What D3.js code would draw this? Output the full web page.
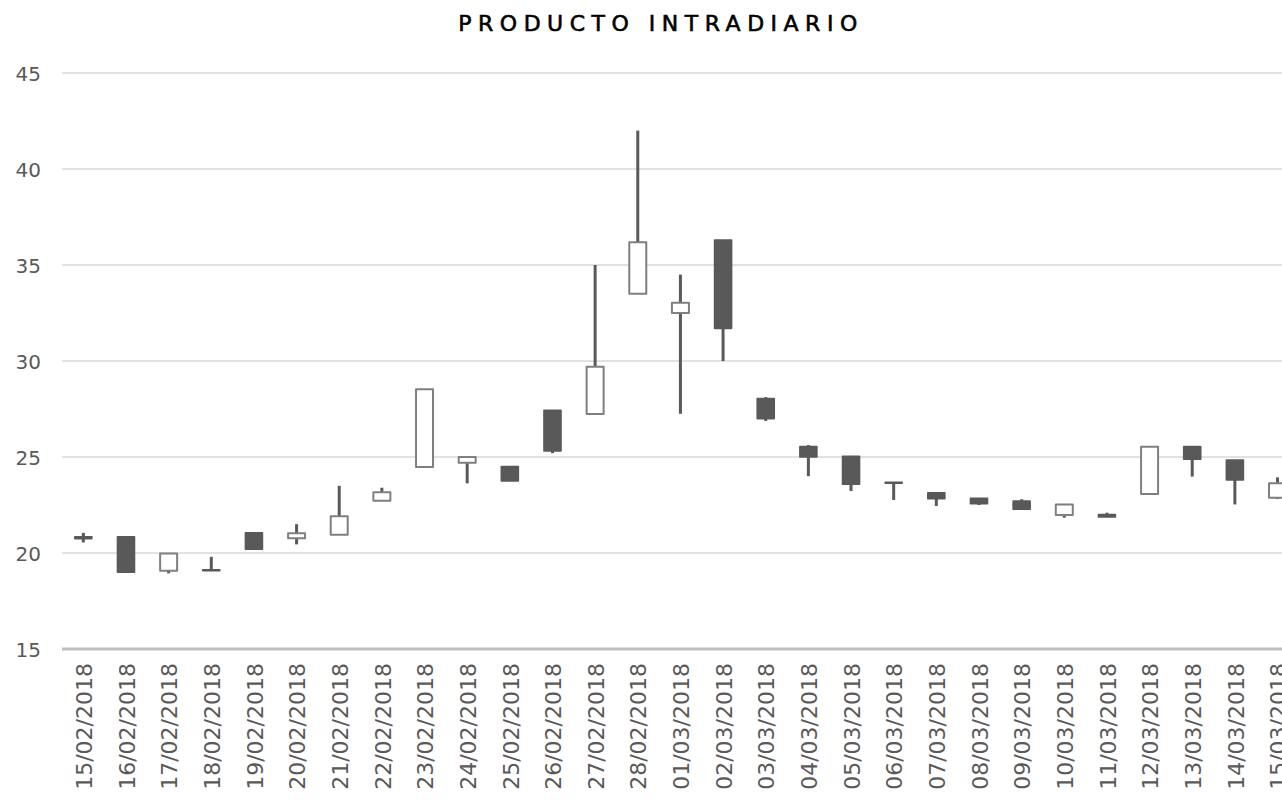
<!DOCTYPE html>
<html>
<head>
<meta charset="utf-8">
<script src="https://cdn.jsdelivr.net/npm/d3@7"></script>
<style>
  html, body { margin: 0; padding: 0; background: white; overflow: hidden; }
</style>
</head>
<body>
<svg id="canvas"></svg>
<script>
const dates = ["15/02/2018", "16/02/2018", "17/02/2018", "18/02/2018", "19/02/2018", "20/02/2018", "21/02/2018",
    "22/02/2018", "23/02/2018", "24/02/2018", "25/02/2018", "26/02/2018", "27/02/2018", "28/02/2018",
    "01/03/2018", "02/03/2018", "03/03/2018", "04/03/2018", "05/03/2018", "06/03/2018", "07/03/2018",
    "08/03/2018", "09/03/2018", "10/03/2018", "11/03/2018", "12/03/2018", "13/03/2018", "14/03/2018", "15/03/2018"];
const openValues = [20.85, 20.85, 19.08, 19.12, 21.05, 20.77, 20.95, 22.72, 24.48, 24.7, 24.5, 27.43, 27.24, 33.5,
    32.5, 36.3, 28.05, 25.55, 25.03, 23.68, 23.13, 22.85, 22.7, 21.98, 22.0, 23.07, 25.54, 24.84, 22.88];
const highValues = [21.05, 20.85, 19.98, 19.8, 21.05, 21.5, 23.5, 23.4, 28.53, 25.0, 24.5, 27.43, 35.0, 42.0,
    34.5, 36.3, 28.12, 25.62, 25.03, 23.68, 23.13, 22.85, 22.8, 22.53, 22.1, 25.54, 25.54, 24.84, 23.94];
const lowValues = [20.55, 19.0, 18.94, 19.08, 20.2, 20.45, 20.95, 22.72, 24.48, 23.63, 23.75, 25.2, 27.24, 33.5,
    27.25, 30.0, 26.88, 24.0, 23.23, 22.76, 22.45, 22.5, 22.28, 21.84, 21.88, 23.07, 23.98, 22.53, 22.81];
const closeValues = [20.75, 19.0, 19.98, 19.08, 20.2, 21.03, 21.92, 23.16, 28.53, 25.0, 23.75, 25.31, 29.7, 36.18,
    33.03, 31.7, 27.0, 25.0, 23.58, 23.64, 22.83, 22.57, 22.28, 22.53, 21.88, 25.54, 24.88, 23.8, 23.63];
const yTicks = [15, 20, 25, 30, 35, 40, 45];

const svgWidth = 1282;
const svgHeight = 800;
const plotLeft = 62;
const step = 42.65;

const data = dates.map((d, i) => ({
    date: d, open: openValues[i], high: highValues[i], low: lowValues[i], close: closeValues[i]
}));

const svg = d3.select("svg")
    .attr("width", svgWidth)
    .attr("height", svgHeight)
    .style("font-family", "'DejaVu Sans', sans-serif");

const xScale = d3.scaleBand()
    .domain(dates)
    .range([plotLeft, plotLeft + step * dates.length])
    .padding(0);

const yScale = d3.scaleLinear()
    .domain([15, 45])
    .range([649, 73]);

const cx = (d) => xScale(d.date) + xScale.bandwidth() / 2;

// title
svg.append("text")
    .attr("x", 661)
    .attr("y", 31)
    .attr("text-anchor", "middle")
    .style("font-size", "22px")
    .style("letter-spacing", "6.5px")
    .style("fill", "black")
    .style("stroke", "black")
    .style("stroke-width", "0.6px")
    .text("PRODUCTO INTRADIARIO");

// gridlines
svg.append("g")
    .selectAll("line")
    .data(yTicks.filter(t => t > 15))
    .enter()
    .append("line")
    .attr("x1", plotLeft)
    .attr("x2", svgWidth)
    .attr("y1", d => yScale(d))
    .attr("y2", d => yScale(d))
    .attr("stroke", "#d9d9d9")
    .attr("stroke-width", 1.5);

// y axis labels
const yAxis = d3.axisLeft(yScale).tickValues(yTicks).tickSize(0).tickPadding(0);
const yAxisG = svg.append("g")
    .attr("transform", "translate(41,0)")
    .call(yAxis);
yAxisG.select(".domain").remove();
yAxisG.selectAll("text")
    .attr("dy", "0.35em")
    .style("font-family", "'DejaVu Sans', sans-serif")
    .style("font-size", "20px")
    .style("fill", "#595959");

// baseline
svg.append("line")
    .attr("x1", plotLeft)
    .attr("x2", svgWidth)
    .attr("y1", yScale(15))
    .attr("y2", yScale(15))
    .attr("stroke", "#bfbfbf")
    .attr("stroke-width", 3);

// x labels
svg.append("g")
    .selectAll("text")
    .data(data)
    .enter()
    .append("text")
    .attr("transform", d => "translate(" + (cx(d) + 1) + ",663) rotate(-90)")
    .attr("text-anchor", "end")
    .attr("dy", "0.35em")
    .style("font-size", "22px")
    .style("fill", "#595959")
    .text(d => d.date);

// candles
const candles = svg.append("g").attr("id", "candles");

candles.selectAll("line")
    .data(data)
    .enter()
    .append("line")
    .attr("x1", d => cx(d))
    .attr("x2", d => cx(d))
    .attr("y1", d => yScale(d.high))
    .attr("y2", d => yScale(d.low))
    .attr("stroke", "#595959")
    .attr("stroke-width", 3);

const boxWidth = 17;
candles.selectAll("rect")
    .data(data)
    .enter()
    .append("rect")
    .attr("x", d => cx(d) - boxWidth / 2)
    .attr("y", d => yScale(Math.max(d.open, d.close)))
    .attr("width", boxWidth)
    .attr("height", d => Math.max(0.5, Math.abs(yScale(d.open) - yScale(d.close))))
    .attr("fill", d => d.close >= d.open ? "white" : "#595959")
    .attr("stroke", d => d.close >= d.open ? "#7f7f7f" : "#595959")
    .attr("stroke-width", d => d.close >= d.open ? 2 : 1.6)
    .attr("stroke-linejoin", "round");
</script>
</body>
</html>
